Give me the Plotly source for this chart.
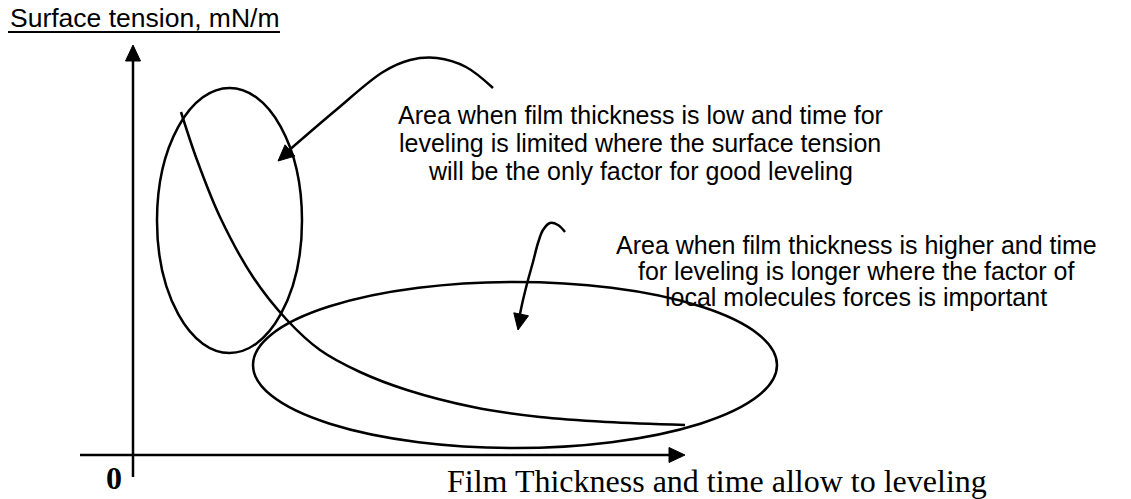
import numpy as np
import plotly.graph_objects as go

W, H = 1131, 499

# ---- schematic data (pixel space, y grows downward) ----
y_axis_x = [133, 133]
y_axis_y = [477, 58]
x_axis_x = [80, 670]
x_axis_y = [455, 455]

curve_x = [181, 197, 220, 253, 287, 320, 360, 407, 473, 540, 607, 685]
curve_y = [112, 160, 217, 277, 320, 350, 372, 390, 407, 417, 422, 425]

arrow1_x = [493, 466, 437, 410, 383, 336, 287]
arrow1_y = [88, 67, 58, 60, 72, 110, 152]
arrow2_x = [565, 558, 550, 543, 538, 533, 528, 523, 520]
arrow2_y = [232, 225, 223, 230, 243, 262, 280, 300, 314]

# arrow heads: tip and a point behind it giving direction
head_tip_x = [133, 685, 278, 518]
head_tip_y = [45, 455, 161, 330]
head_back_x = [133, 600, 336, 528]
head_back_y = [120, 455, 110, 280]

# ellipses: x0, x1, y0, y1
ell_small = [157, 302, 88, 353]
ell_big = [253, 777, 282, 448]

title_text = "Surface tension, mN/m"
zero_text = "0"
xlabel_text = "Film Thickness and time allow to leveling"
note1_lines = ["Area when film thickness is low and time for",
               "leveling is limited where the surface tension",
               "will be the only factor for good leveling"]
note1_y = [115, 143, 171]
note1_cx = 640
note2_lines = ["Area when film thickness is higher and time",
               "for leveling is longer where the factor of",
               "local molecules forces is important"]
note2_y = [245, 271, 297]
note2_cx = 856

LW = 2.5
fig = go.Figure()

def line(xs, ys, shape="linear"):
    fig.add_trace(go.Scatter(x=xs, y=ys, mode="lines",
                             line=dict(color="black", width=LW, shape=shape),
                             hoverinfo="skip", showlegend=False))

line(y_axis_x, y_axis_y)
line(x_axis_x, x_axis_y)
line(curve_x, curve_y, "spline")
line(arrow1_x, arrow1_y, "spline")
line(arrow2_x, arrow2_y, "spline")

L, HW = 16, 7.5
for tx, ty, bx, by in zip(head_tip_x, head_tip_y, head_back_x, head_back_y):
    d = np.array([tx - bx, ty - by], float)
    d /= np.linalg.norm(d)
    n = np.array([-d[1], d[0]])
    base = np.array([tx, ty]) - L * d
    p1 = base + HW * n
    p2 = base - HW * n
    fig.add_trace(go.Scatter(x=[tx, p1[0], p2[0], tx], y=[ty, p1[1], p2[1], ty],
                             mode="lines", fill="toself", fillcolor="black",
                             line=dict(color="black", width=1),
                             hoverinfo="skip", showlegend=False))

for e in (ell_small, ell_big):
    fig.add_shape(type="circle", xref="x", yref="y", x0=e[0], x1=e[1], y0=e[2], y1=e[3],
                  line=dict(color="black", width=LW))

# title underline
fig.add_shape(type="line", xref="x", yref="y", x0=8, x1=280, y0=32, y1=32,
              line=dict(color="black", width=1.8))

sans = "Liberation Sans, Arial, sans-serif"
serif = "Liberation Serif, Times New Roman, serif"

fig.add_annotation(x=8, y=18, text=title_text, showarrow=False, xanchor="left", yanchor="middle",
                   font=dict(family=sans, size=26.5, color="black"))
fig.add_annotation(x=114, y=498, text="<b>" + zero_text + "</b>", showarrow=False,
                   xanchor="center", yanchor="bottom", font=dict(family=serif, size=32, color="black"))
fig.add_annotation(x=445, y=481, text=xlabel_text, showarrow=False, xanchor="left", yanchor="middle",
                   font=dict(family=serif, size=32, color="black"))
for t, yy in zip(note1_lines, note1_y):
    fig.add_annotation(x=note1_cx, y=yy, text=t, showarrow=False, xanchor="center", yanchor="middle",
                       font=dict(family=sans, size=25, color="black"))
for t, yy in zip(note2_lines, note2_y):
    fig.add_annotation(x=note2_cx, y=yy, text=t, showarrow=False, xanchor="center", yanchor="middle",
                       font=dict(family=sans, size=25, color="black"))

fig.update_layout(width=W, height=H, margin=dict(l=0, r=0, t=0, b=0),
                  paper_bgcolor="white", plot_bgcolor="white",
                  xaxis=dict(range=[0, W], visible=False, fixedrange=True),
                  yaxis=dict(range=[H, 0], visible=False, fixedrange=True))
fig.write_html("out.html", config={"displayModeBar": False},
               post_script="document.body.style.margin='0';document.body.style.overflow='hidden';")
